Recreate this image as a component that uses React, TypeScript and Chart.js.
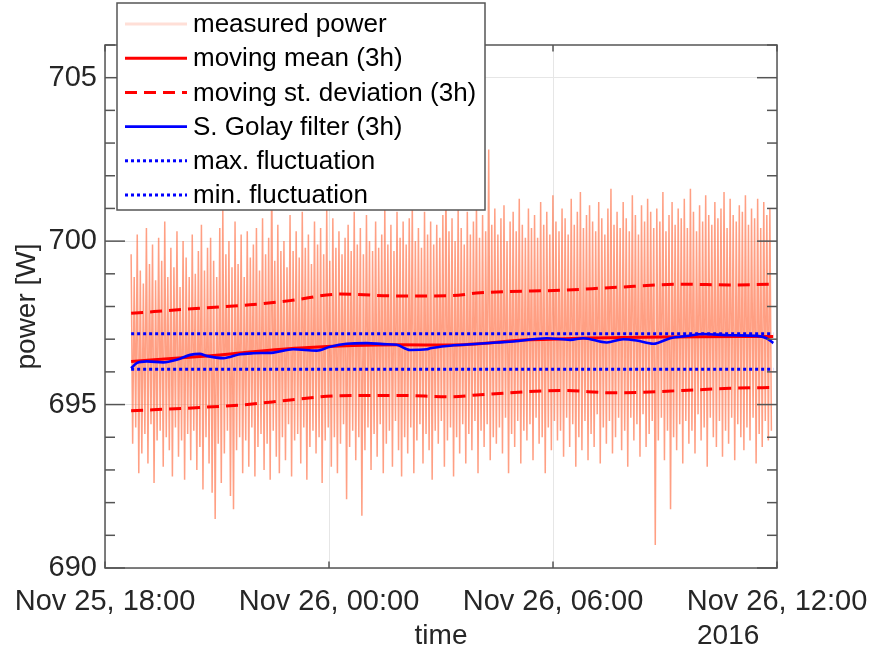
import React, { useEffect, useRef } from 'react';
import { Chart, registerables } from 'chart.js';

Chart.register(...registerables);

const FONT = '"Liberation Sans", Arial, Helvetica, sans-serif';
const TEXT = '#262626';

// ---- axes / ticks ----
const xTickHours = [0, 6, 12, 18]; // hours after Nov 25, 18:00
const xTickLabels = ['Nov 25, 18:00', 'Nov 26, 00:00', 'Nov 26, 06:00', 'Nov 26, 12:00'];
const yearLabel = '2016';
const xTitle = 'time';
const yTitle = 'power [W]';
const yMin = 690;
const yMax = 706;
const yMajorStep = 5;

const measuredStartHour = 0.7;
const measuredEndHour = 17.85;
const measuredPower = [
  699.6, 693.8, 698.9, 694.3, 700.2, 692.9, 699.1, 693.5, 698.7, 694.1, 700.4, 693.2, 699.3, 694.4, 699.9, 692.6, 698.8, 693.9, 700.1, 694.2,
  699.4, 693.1, 700.6, 694.0, 698.9, 693.6, 699.8, 692.8, 699.2, 694.3, 700.3, 693.4, 698.6, 693.9, 700.0, 692.7, 699.5, 694.1, 698.9, 693.3,
  700.2, 694.2, 699.0, 693.0, 699.7, 693.7, 700.5, 692.4, 699.1, 694.0, 699.8, 693.2, 700.1, 692.3, 699.4, 691.5, 698.9, 693.8, 700.4, 692.6,
  701.0, 693.5, 699.6, 694.2, 700.0, 692.2, 699.2, 691.8, 700.6, 693.6, 699.3, 694.0, 700.2, 692.9, 698.9, 693.9, 700.3, 693.1, 699.5, 694.3,
  699.9, 692.8, 700.4, 693.7, 699.1, 694.1, 700.7, 693.0, 699.6, 693.8, 700.1, 692.7, 702.2, 694.2, 699.4, 693.4, 700.5, 692.9, 699.7, 694.0,
  700.0, 693.3, 699.2, 694.4, 700.8, 692.8, 699.7, 693.9, 700.3, 694.1, 699.5, 693.2, 700.9, 694.3, 699.8, 692.7, 700.2, 693.7, 699.3, 694.2,
  700.6, 693.5, 699.9, 694.0, 700.4, 692.6, 699.6, 693.9, 701.0, 694.3, 699.4, 693.1, 700.7, 694.0, 699.8, 692.9, 700.3, 693.8, 699.6, 694.4,
  700.1, 692.1, 700.5, 693.7, 699.7, 694.2, 700.9, 693.3, 699.9, 694.0, 700.4, 691.6, 699.6, 693.6, 700.8, 694.3, 700.0, 693.0, 699.7, 694.1,
  700.6, 693.4, 699.8, 694.4, 700.2, 692.9, 701.1, 693.8, 699.9, 694.2, 700.5, 693.1, 699.7, 694.5, 700.9, 693.6, 700.1, 692.8, 700.6, 694.0,
  699.9, 693.5, 700.7, 694.3, 701.2, 692.9, 700.0, 693.9, 700.4, 694.4, 699.8, 693.2, 700.9, 694.1, 700.2, 693.6, 700.6, 692.7, 699.9, 694.2,
  700.5, 693.8, 700.1, 694.5, 700.8, 693.1, 701.9, 693.9, 700.3, 694.3, 700.7, 692.8, 700.0, 694.0, 701.0, 693.5, 700.4, 694.4, 699.9, 693.2,
  700.9, 694.1, 700.2, 693.6, 700.6, 694.5, 701.2, 692.9, 700.1, 694.2, 700.8, 693.7, 700.3, 694.4, 702.8, 693.3, 700.5, 694.0, 701.0, 693.8,
  700.2, 694.3, 700.7, 693.5, 701.1, 694.6, 700.0, 692.9, 700.6, 694.1, 700.9, 693.7, 700.3, 694.5, 701.3, 693.2, 700.5, 694.2, 700.1, 693.9,
  701.0, 694.4, 700.4, 693.3, 700.8, 694.6, 700.1, 693.8, 701.2, 694.0, 700.5, 692.9, 700.9, 694.3, 700.2, 693.6, 701.4, 694.5, 700.6, 693.9,
  700.3, 694.2, 701.0, 693.4, 700.7, 694.6, 700.2, 693.7, 701.3, 694.4, 700.5, 693.1, 700.9, 694.0, 701.5, 693.6, 700.4, 694.5, 700.8, 693.3,
  701.1, 694.1, 700.6, 693.7, 700.3, 694.7, 701.2, 693.2, 700.7, 694.3, 700.2, 693.8, 701.0, 694.5, 701.6, 693.5, 700.5, 694.0, 700.9, 694.6,
  700.4, 693.6, 701.2, 694.2, 700.7, 693.1, 700.3, 694.6, 701.4, 693.9, 700.8, 694.4, 700.2, 693.4, 701.1, 694.7, 700.6, 693.7, 701.3, 694.1,
  700.9, 694.5, 700.4, 690.7, 701.0, 693.9, 700.6, 694.6, 701.5, 693.3, 700.3, 694.2, 700.8, 691.8, 701.2, 694.0, 700.5, 693.6, 701.0, 694.4,
  700.7, 693.2, 701.3, 694.5, 700.4, 693.8, 701.6, 694.2, 700.9, 693.5, 700.3, 694.7, 701.1, 693.9, 700.6, 694.3, 701.4, 693.1, 700.8, 694.6,
  700.5, 694.0, 701.2, 693.7, 700.7, 694.5, 701.0, 693.4, 701.5, 694.2, 700.4, 693.8, 701.3, 694.6, 700.8, 693.3, 700.6, 694.4, 701.1, 694.0,
  700.9, 693.6, 701.4, 694.3, 700.5, 693.9, 701.0, 694.6, 700.7, 693.2, 701.3, 694.1, 700.4, 693.7, 701.2, 694.5, 700.8, 693.9, 701.0, 694.2,
];

// ---- moving mean (3h) ----
const meanHours = [0.7, 2.54, 5.22, 7.9, 9.24, 11.38, 14.95, 17.9];
const meanValues = [696.32, 696.47, 696.73, 696.83, 696.82, 696.98, 697.07, 697.08];

// ---- moving st. deviation (3h), upper and lower ----
const stdHours = [0.7, 2.54, 3.88, 4.96, 6.3, 7.9, 9.24, 10.05, 12.27, 13.6, 15.48, 16.74, 17.9];
const stdUpper = [697.79, 697.95, 698.05, 698.18, 698.38, 698.32, 698.33, 698.42, 698.5, 698.58, 698.68, 698.66, 698.68];
const stdLower = [694.81, 694.91, 695.01, 695.14, 695.27, 695.28, 695.24, 695.3, 695.43, 695.36, 695.43, 695.5, 695.52];

// ---- Savitzky-Golay filter (3h) ----
const sgHours = [
  0.7, 0.85, 1.12, 1.56, 1.92, 2.28, 2.54, 2.72, 3.17, 3.62, 3.97, 4.51, 5.04, 5.67, 6.03, 6.47, 7.01, 7.46, 7.81, 8.17,
  8.62, 8.71, 9.24, 9.6, 10.49, 10.94, 11.83, 12.46, 12.81, 13.44, 13.88, 14.24, 14.69, 15.14, 15.58, 16.03, 16.74, 17.46, 17.72, 17.9,
];
const sgValues = [
  696.11, 696.27, 696.32, 696.29, 696.37, 696.52, 696.55, 696.49, 696.42, 696.54, 696.57, 696.59, 696.69, 696.65, 696.77, 696.86, 696.88, 696.85, 696.83, 696.67,
  696.69, 696.72, 696.8, 696.83, 696.9, 696.93, 697.03, 696.98, 697.03, 696.9, 697.0, 696.96, 696.86, 697.03, 697.1, 697.16, 697.12, 697.1, 697.03, 696.88,
];

// ---- fluctuation limits ----
const fluctHours = [0.7, 17.9];
const maxFluctuation = [697.17, 697.17];
const minFluctuation = [696.08, 696.08];

const legendLabels = [
  'measured power',
  'moving mean (3h)',
  'moving st. deviation (3h)',
  'S. Golay filter (3h)',
  'max. fluctuation',
  'min. fluctuation',
];

const pts = (xs: number[], ys: number[]) => ys.map((y, i) => ({ x: xs[i], y }));

const line = (ctx: CanvasRenderingContext2D, x1: number, y1: number, x2: number, y2: number) => {
  ctx.beginPath();
  ctx.moveTo(x1, y1);
  ctx.lineTo(x2, y2);
  ctx.stroke();
};

const axesPlugin = {
  id: 'matlabAxes',
  afterDatasetsDraw(chart: any) {
    const { ctx, chartArea: a, scales } = chart;
    const x = scales.x;
    const y = scales.y;
    ctx.save();
    ctx.strokeStyle = '#555555';
    ctx.lineWidth = 1.5;
    ctx.setLineDash([]);
    for (let v = yMin; v <= yMax; v += 1) {
      const py = y.getPixelForValue(v);
      const len = v % yMajorStep === 0 ? 20 : 10;
      line(ctx, a.left, py, a.left + len, py);
      line(ctx, a.right, py, a.right - len, py);
    }
    for (const h of xTickHours) {
      const px = x.getPixelForValue(h);
      line(ctx, px, a.bottom, px, a.bottom - 6.5);
      line(ctx, px, a.top, px, a.top + 6.5);
    }
    ctx.strokeRect(a.left, a.top, a.right - a.left, a.bottom - a.top);
    ctx.restore();
  },
  afterDraw(chart: any) {
    const { ctx } = chart;
    ctx.save();
    // year label under the last tick
    ctx.fillStyle = TEXT;
    ctx.font = `28px ${FONT}`;
    ctx.textAlign = 'left';
    ctx.textBaseline = 'middle';
    ctx.fillText(yearLabel, 697, 636);

    // legend
    const lx = 117, ly = 3, lw = 368, lh = 207;
    ctx.fillStyle = '#ffffff';
    ctx.fillRect(lx, ly, lw, lh);
    ctx.strokeStyle = '#555555';
    ctx.lineWidth = 1.5;
    ctx.strokeRect(lx, ly, lw, lh);
    const ds = chart.data.datasets.filter((d: any) => !d.hideInLegend);
    ds.forEach((d: any, i: number) => {
      const cy = 24 + i * 34.2;
      ctx.save();
      ctx.strokeStyle = d.legendColor || d.borderColor;
      ctx.lineWidth = d.legendWidth || d.borderWidth;
      ctx.setLineDash(d.borderDash || []);
      line(ctx, 125, cy, 187, cy);
      ctx.restore();
      ctx.fillStyle = '#000000';
      ctx.font = `26px ${FONT}`;
      ctx.textAlign = 'left';
      ctx.textBaseline = 'middle';
      ctx.fillText(legendLabels[i], 193, cy + 1);
    });
    ctx.restore();
  },
};

export default function App() {
  const ref = useRef<HTMLCanvasElement>(null);

  useEffect(() => {
    if (!ref.current) return;
    const n = measuredPower.length;
    const step = (measuredEndHour - measuredStartHour) / (n - 1);
    const measured = measuredPower.map((y, i) => ({ x: measuredStartHour + i * step, y }));

    const common = { pointRadius: 0, pointHoverRadius: 0, fill: false, tension: 0 };

    const chart = new Chart(ref.current, {
      type: 'line',
      data: {
        datasets: [
          {
            ...common,
            label: legendLabels[0],
            data: measured,
            borderColor: 'rgba(255, 100, 55, 0.62)',
            legendColor: 'rgba(255, 95, 55, 0.2)',
            legendWidth: 3,
            borderWidth: 1.5,
            order: 7,
          } as any,
          {
            ...common,
            label: legendLabels[1],
            data: pts(meanHours, meanValues),
            borderColor: '#ff0000',
            borderWidth: 3,
            cubicInterpolationMode: 'monotone',
            order: 6,
          },
          {
            ...common,
            label: legendLabels[2],
            data: pts(stdHours, stdUpper),
            borderColor: '#ff0000',
            borderWidth: 3,
            borderDash: [12, 7],
            cubicInterpolationMode: 'monotone',
            order: 5,
          },
          {
            ...common,
            label: legendLabels[2] + ' lower',
            data: pts(stdHours, stdLower),
            borderColor: '#ff0000',
            borderWidth: 3,
            borderDash: [12, 7],
            cubicInterpolationMode: 'monotone',
            hideInLegend: true,
            order: 4,
          } as any,
          {
            ...common,
            label: legendLabels[3],
            data: pts(sgHours, sgValues),
            borderColor: '#0000ff',
            borderWidth: 2.6,
            cubicInterpolationMode: 'monotone',
            order: 3,
          },
          {
            ...common,
            label: legendLabels[4],
            data: pts(fluctHours, maxFluctuation),
            borderColor: '#0000ff',
            borderWidth: 3,
            borderDash: [3, 3],
            order: 2,
          },
          {
            ...common,
            label: legendLabels[5],
            data: pts(fluctHours, minFluctuation),
            borderColor: '#0000ff',
            borderWidth: 3,
            borderDash: [3, 3],
            order: 1,
          },
        ],
      },
      options: {
        animation: false,
        responsive: false,
        maintainAspectRatio: false,
        events: [],
        layout: { padding: { left: 0, top: 45, right: 94, bottom: 0 } },
        plugins: { legend: { display: false }, tooltip: { enabled: false } },
        scales: {
          x: {
            type: 'linear',
            min: xTickHours[0],
            max: xTickHours[xTickHours.length - 1],
            afterBuildTicks: (s: any) => {
              s.ticks = xTickHours.map((v) => ({ value: v }));
            },
            afterFit: (s: any) => {
              s.height = 87;
              s.paddingLeft = 0;
              s.paddingRight = 0;
            },
            grid: { color: '#e6e6e6', lineWidth: 1, drawTicks: false },
            border: { display: false },
            ticks: {
              autoSkip: false,
              maxRotation: 0,
              minRotation: 0,
              padding: 17,
              color: TEXT,
              font: { family: FONT, size: 29 },
              callback: (v: any) => xTickLabels[xTickHours.indexOf(Number(v))] ?? '',
            },
            title: {
              display: true,
              text: xTitle,
              color: TEXT,
              font: { family: FONT, size: 28, lineHeight: 1 },
              padding: { top: 0, bottom: 5 },
            },
          },
          y: {
            type: 'linear',
            min: yMin,
            max: yMax,
            afterFit: (s: any) => {
              s.width = 105;
            },
            grid: { color: '#e6e6e6', lineWidth: 1, drawTicks: false },
            border: { display: false },
            ticks: {
              stepSize: yMajorStep,
              includeBounds: false,
              padding: 8,
              color: TEXT,
              font: { family: FONT, size: 29 },
            },
            title: {
              display: true,
              text: yTitle,
              color: TEXT,
              font: { family: FONT, size: 28, lineHeight: 1 },
              padding: { top: 13, bottom: 0 },
            },
          },
        },
      } as any,
      plugins: [axesPlugin],
    });
    return () => chart.destroy();
  }, []);

  return (
    <div style={{ position: 'absolute', left: 0, top: 0, width: 871, height: 655, background: '#ffffff' }}>
      <canvas ref={ref} width={871} height={655} style={{ display: 'block' }} />
    </div>
  );
}
